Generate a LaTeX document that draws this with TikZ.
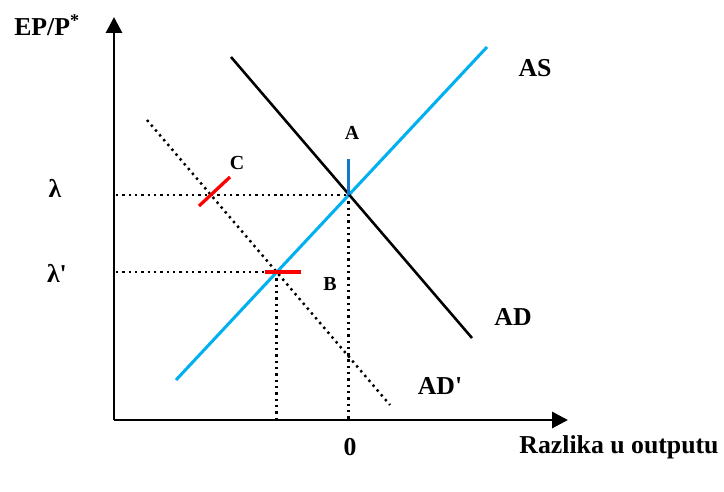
\documentclass[tikz,border=0pt]{standalone}
\usepackage{fontspec}
\setmainfont{Liberation Serif}
\usepackage{xcolor}
\usepackage{tikz}
\usetikzlibrary{arrows.meta,calc}

\definecolor{asblue}{RGB}{0,176,240}
\definecolor{markblue}{RGB}{20,120,200}
\definecolor{markred}{RGB}{255,0,0}

\begin{document}
\begin{tikzpicture}[
	x=0.03cm, y=-0.03cm,
	font=\fontsize{22}{26}\selectfont\bfseries,
	>={Triangle[length=16*0.85pt, width=16*0.85pt]},
	axis/.style={->, line width=2.5pt, black},
	curve/.style={line width=2.2pt, black},
	supply/.style={line width=2.6pt, asblue},
	guide/.style={line width=2.1pt, dash pattern=on 2pt off 3.4pt, black},
	tick/.style={line width=2.8pt},
	small/.style={font=\fontsize{17}{20}\selectfont\bfseries}
	]
	\useasboundingbox (0,0) rectangle (724,491);
	%% ─── AXES ────────────────────────────────────────────────────────────────
	\coordinate (O) at (114,420);
	\coordinate (ytop) at (114,17);
	\coordinate (xend) at (568,420);
	\draw[axis] (O) -- (ytop);
	\draw[axis] (O) -- (xend);
	
	\node (ylab) at (47,25) {EP/P\textsuperscript{*}};
	\node (xlab) at (619,447) {Razlika u outputu};
	\node (zero) at (350,447) {0};
	
	%% ─── CURVES ──────────────────────────────────────────────────────────────
	\coordinate (as0) at (176,380);  \coordinate (as1) at (487,47);
	\coordinate (ad0) at (231,57);   \coordinate (ad1) at (472,338);
	\coordinate (adp0) at (147,120); \coordinate (adp1) at (390,405);
	\coordinate (A) at (348.5,195);
	\coordinate (B) at (276.5,272);
	\coordinate (C) at (211,195);
	
	% guides to the axes
	\coordinate (lam) at (116,195);
	\coordinate (lamp) at (116,272);
	\draw[guide] (lam) -- (A);
	\draw[guide] (lamp) -- (B);
	\draw[guide] (A) -- (A |- O);
	\draw[guide] (B) -- (B |- O);
	\draw[guide] (adp0) -- (adp1);
	
	\draw[supply] (as0) -- (as1);
	\draw[curve] (ad0) -- (ad1);
	
	%% ─── MARKS A, B, C ───────────────────────────────────────────────────────
	\coordinate (atop) at (348.5,159);
	\coordinate (bl) at (265,272);  \coordinate (br) at (301,272);
	\coordinate (cl) at (199,206);  \coordinate (cr) at (230,177);
	\draw[tick, markblue] (atop) -- (A);
	\draw[tick, markred] (bl) -- (br);
	\draw[tick, markred] (cl) -- (cr);
	
	\node[small] (labA) at (352,133) {A};
	\node[small] (labB) at (330,284) {B};
	\node[small] (labC) at (237,163) {C};
	
	\node (lamlab) at (55,188) {λ};
	\node (lamplab) at (57,273) {λ\textquotesingle};
	\node (aslab) at (535,68) {AS};
	\node (adlab) at (513,317) {AD};
	\node (adplab) at (440,386) {AD\textquotesingle};
\end{tikzpicture}
\end{document}
